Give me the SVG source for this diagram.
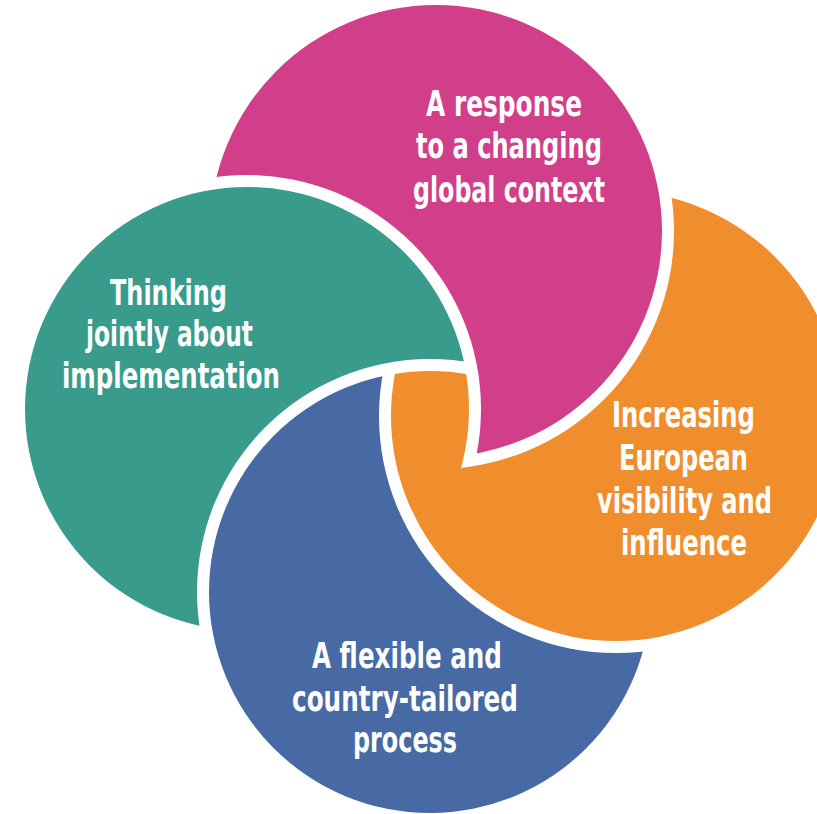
<svg xmlns="http://www.w3.org/2000/svg" width="817" height="814" viewBox="0 0 817 814">
<style>
.lbl{font-family:"DejaVu Sans Condensed","DejaVu Sans","Liberation Sans Narrow",sans-serif;font-stretch:condensed;font-weight:bold;font-size:36px;fill:#ffffff;text-anchor:middle}
</style>
<defs>
<mask id="mPink" maskUnits="userSpaceOnUse" x="0" y="0" width="817" height="814">
<rect width="817" height="814" fill="#fff"/>
<circle cx="247" cy="409" r="234" fill="#000"/>
</mask>
<mask id="mGreen" maskUnits="userSpaceOnUse" x="0" y="0" width="817" height="814">
<rect width="817" height="814" fill="#fff"/>
<circle cx="430" cy="592" r="233" fill="#000"/>
</mask>
<mask id="mBlue" maskUnits="userSpaceOnUse" x="0" y="0" width="817" height="814">
<rect width="817" height="814" fill="#fff"/>
<circle cx="616" cy="416" r="237" fill="#000"/>
</mask>
<mask id="mOr1" maskUnits="userSpaceOnUse" x="0" y="0" width="817" height="814">
<rect width="817" height="814" fill="#fff"/>
<circle cx="436" cy="231" r="238" fill="#000"/>
<circle cx="247" cy="409" r="222" fill="#fff"/>
</mask>
<mask id="mOr2" maskUnits="userSpaceOnUse" x="0" y="0" width="817" height="814">
<rect width="817" height="814" fill="#fff"/>
<circle cx="247" cy="409" r="234" fill="#000"/>
<circle cx="430" cy="592" r="221" fill="#fff"/>
</mask>
</defs>
<rect width="817" height="814" fill="#ffffff"/>
<g id="connectors"/>
<g id="node-global-context">
<circle cx="436" cy="231" r="226" fill="#D13E89" mask="url(#mPink)"/>
<text class="lbl" x="504" y="116" textLength="156" lengthAdjust="spacingAndGlyphs">A response</text>
<text class="lbl" x="509" y="158" textLength="186" lengthAdjust="spacingAndGlyphs">to a changing</text>
<text class="lbl" x="509" y="202" textLength="192" lengthAdjust="spacingAndGlyphs">global context</text>
</g>
<g id="node-implementation">
<circle cx="247" cy="409" r="222" fill="#389B8C" mask="url(#mGreen)"/>
<text class="lbl" x="168.5" y="305" textLength="117" lengthAdjust="spacingAndGlyphs">Thinking</text>
<text class="lbl" x="169.5" y="346" textLength="167" lengthAdjust="spacingAndGlyphs">jointly about</text>
<text class="lbl" x="171" y="388" textLength="218" lengthAdjust="spacingAndGlyphs">implementation</text>
</g>
<g id="node-visibility">
<g mask="url(#mOr1)">
<circle cx="616" cy="416" r="225" fill="#F08E2E" mask="url(#mOr2)"/>
</g>
<text class="lbl" x="683.5" y="427" textLength="143" lengthAdjust="spacingAndGlyphs">Increasing</text>
<text class="lbl" x="683.5" y="470" textLength="129" lengthAdjust="spacingAndGlyphs">European</text>
<text class="lbl" x="684.5" y="513" textLength="175" lengthAdjust="spacingAndGlyphs">visibility and</text>
<text class="lbl" x="684" y="555" textLength="126" lengthAdjust="spacingAndGlyphs">influence</text>
</g>
<g id="node-process">
<circle cx="430" cy="592" r="221" fill="#4769A4" mask="url(#mBlue)"/>
<text class="lbl" x="407" y="668" textLength="190" lengthAdjust="spacingAndGlyphs">A flexible and</text>
<text class="lbl" x="405" y="711" textLength="226" lengthAdjust="spacingAndGlyphs">country-tailored</text>
<text class="lbl" x="405" y="752" textLength="104" lengthAdjust="spacingAndGlyphs">process</text>
</g>
</svg>
